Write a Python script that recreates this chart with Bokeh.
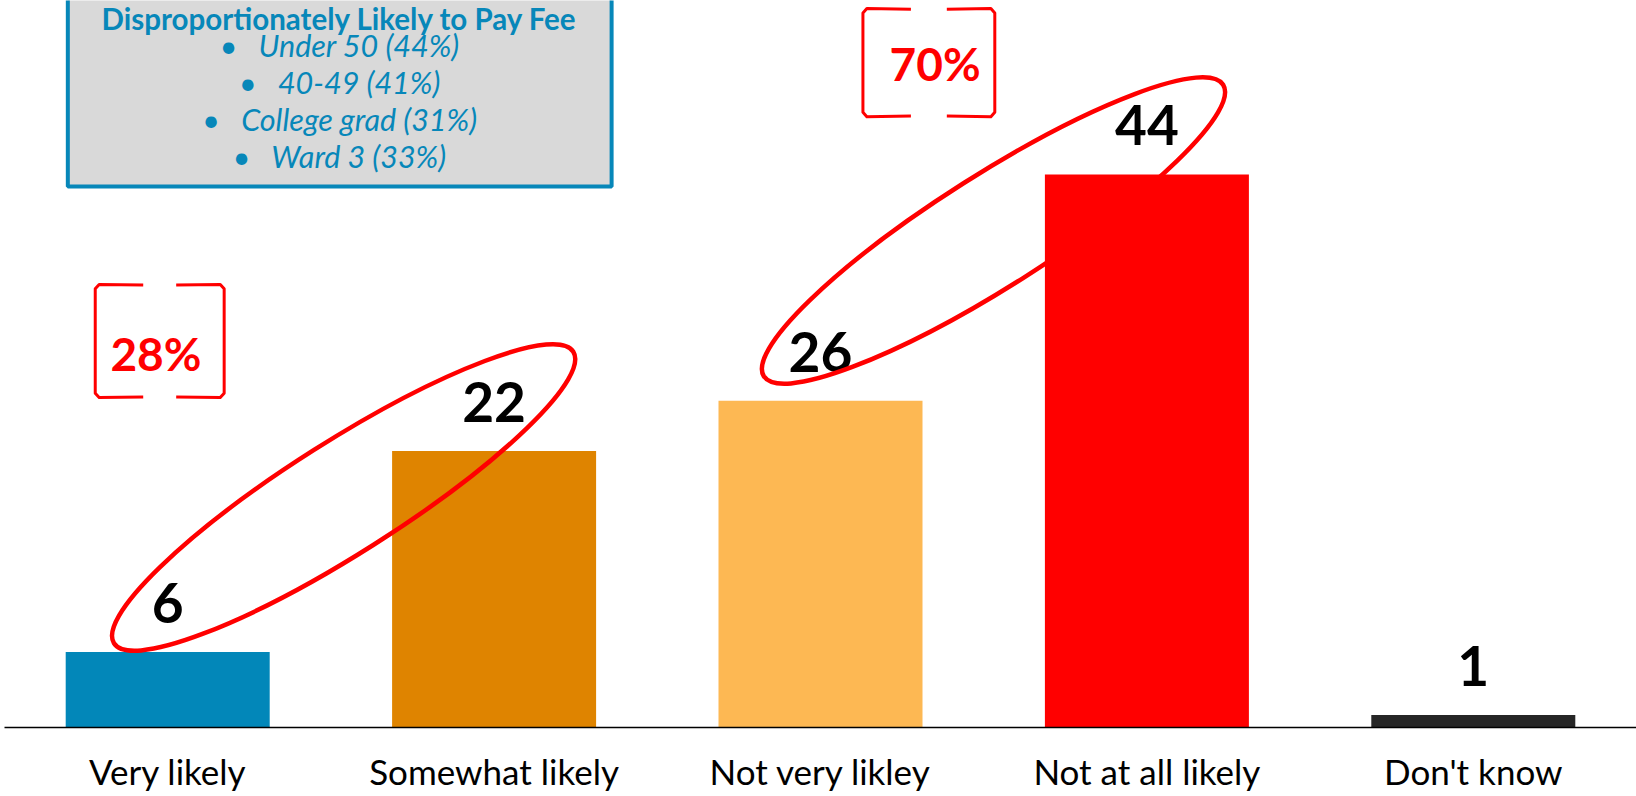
import math
from bokeh.plotting import figure
from bokeh.models import FactorRange, Range1d, ColumnDataSource
from bokeh.core.properties import value
from bokeh.embed import file_html
from bokeh.resources import INLINE

# ---- data ----
categories = ["Very likely", "Somewhat likely", "Not very likley", "Not at all likely", "Don't know"]
values = [6, 22, 26, 44, 1]
bar_colors = ["#0287B9", "#DF8400", "#FDB853", "#FF0000", "#262626"]
value_labels = [str(v) for v in values]

likely_total = values[0] + values[1]
unlikely_total = values[2] + values[3]
group_labels = [f"{likely_total}%", f"{unlikely_total}%"]

legend_title = "Disproportionately Likely to Pay Fee"
legend_items = ["Under 50 (44%)", "40-49 (41%)", "College grad (31%)", "Ward 3 (33%)"]

BLUE = "#0787B9"
RED = "#FF0000"

p = figure(
    x_range=FactorRange(factors=categories, range_padding=0),
    y_range=Range1d(0, 57.84),
    width=1636, height=796,
    output_backend="svg", toolbar_location=None,
    y_axis_location=None,
    min_border_left=4, min_border_right=0, min_border_top=0, min_border_bottom=69,
)
p.outline_line_color = None
p.xgrid.visible = False
p.ygrid.visible = False
p.background_fill_color = "white"
p.border_fill_color = "white"

ax = p.xaxis[0]
ax.axis_line_color = "black"
ax.axis_line_width = 1.5
ax.major_tick_line_color = None
ax.major_tick_out = 0
ax.major_tick_in = 0
ax.major_label_standoff = 22
ax.major_label_text_font = "Lato"
ax.major_label_text_font_size = "35px"
ax.major_label_text_color = "black"

# legend box (top edge runs off the page)
p.quad(left=0.194, right=1.860, bottom=43.05, top=62, fill_color="#D9D9D9",
       line_color=BLUE, line_width=4)
p.text(x=[1.027], y=[55.45], text=[legend_title], y_offset=-12, text_font=value("Lato"),
       text_font_style="bold", text_font_size="29.5px", text_color=BLUE,
       text_align="center", text_baseline="alphabetic")
leg_y = [53.30 - 2.959 * i for i in range(len(legend_items))]
p.text(x=[1.027] * len(legend_items), y=leg_y, y_offset=-13,
       text=["\u2022\u2002 " + s for s in legend_items], text_font=value("Lato"),
       text_font_style="italic", text_font_size="30.5px", text_color=BLUE,
       text_align="center", text_baseline="alphabetic")

# bars
src = ColumnDataSource(dict(cat=categories, val=values, color=bar_colors, lab=value_labels))
p.vbar(x="cat", top="val", width=0.625, fill_color="color", line_color=None, source=src)

# value labels
p.text(x="cat", y="val", text="lab", source=src, y_offset=-49,
       text_font=value("Lato"), text_font_style="bold", text_font_size="55px",
       text_color="black", text_align="center", text_baseline="alphabetic")

# ellipses grouping pairs
p.ellipse(x=[1.039, 3.030], y=[18.3, 39.54], width=[544, 544], height=[112, 112],
          width_units="screen", height_units="screen", angle=math.radians(32.4),
          fill_color=None, line_color=RED, line_width=4.5)

# brackets
def bracket(cx, cy, hw, hh, arm):
    r = 0.012
    rv = 0.35
    left = [cx - hw + arm, cx - hw + r, cx - hw, cx - hw, cx - hw + r, cx - hw + arm]
    right = [cx + hw - arm, cx + hw - r, cx + hw, cx + hw, cx + hw - r, cx + hw - arm]
    ys = [cy + hh - 0.05, cy + hh, cy + hh - rv, cy - hh + rv, cy - hh, cy - hh + 0.05]
    return [left, right], [ys, ys]

xs, ys = [], []
for (cx, cy, hw, hh) in [(0.4755, 30.75, 0.1975, 4.5), (2.832, 52.9, 0.202, 4.3)]:
    a, b = bracket(cx, cy, hw, hh, 0.147)
    xs += a
    ys += b
p.multi_line(xs=xs, ys=ys, line_color=RED, line_width=3, line_join="round")

p.text(x=[0.464, 2.851], y=[28.28, 51.34], text=group_labels, y_offset=-19,
       text_font=value("Lato"), text_font_style="bold", text_font_size="46px",
       text_color=RED, text_align="center", text_baseline="alphabetic")

open("out.html", "w").write(file_html(p, INLINE))
